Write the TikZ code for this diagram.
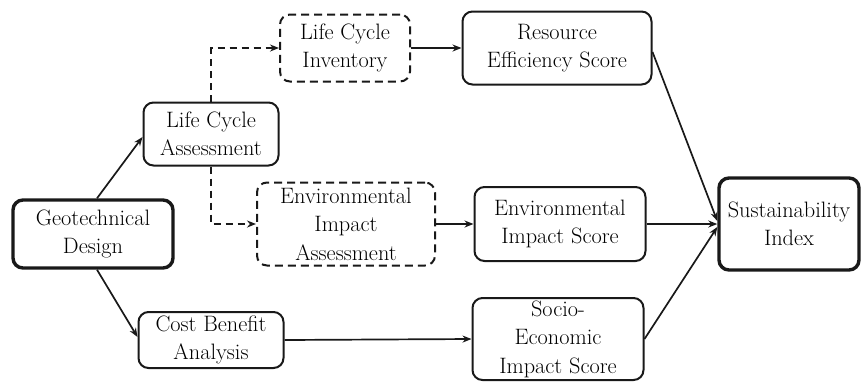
\documentclass[tikz,border=0pt]{standalone}
\usetikzlibrary{arrows.meta,calc}
\begin{document}
\begin{tikzpicture}[x=1pt,y=-1pt,
  box/.style={draw=black!90,line width=2pt,rounded corners=10pt,align=center,
    inner sep=0pt,text=black,font=\rmfamily\fontsize{22.3}{28.5}\selectfont},
  thickbox/.style={box,line width=3.4pt},
  dbox/.style={box,dash pattern=on 8pt off 5pt},
  arr/.style={draw=black!90,line width=1.7pt,-{Stealth[length=9pt,width=7pt]}},
  darr/.style={arr,dash pattern=on 7pt off 5pt}]
\useasboundingbox (0,0) rectangle (861,384);
\node[thickbox,minimum width=160pt,minimum height=68pt] (geo) at (93,234) {Geotechnical\\Design};
\node[box,minimum width=135pt,minimum height=63pt] (lca) at (211,134) {Life Cycle\\Assessment};
\node[box,minimum width=145pt,minimum height=56pt] (cba) at (211,340) {Cost Benefit\\Analysis};
\node[dbox,minimum width=130pt,minimum height=67pt] (lci) at (345,48) {Life Cycle\\Inventory};
\node[dbox,minimum width=178pt,minimum height=83pt] (eia) at (346,224) {Environmental\\Impact\\Assessment};
\node[box,minimum width=189pt,minimum height=73pt] (res) at (557,48) {Resource\\Efficiency Score};
\node[box,minimum width=171pt,minimum height=74pt] (eis) at (560,224) {Environmental\\Impact Score};
\node[box,minimum width=171pt,minimum height=82pt] (seis) at (558,339) {Socio-\\Economic\\Impact Score};
\node[thickbox,minimum width=140pt,minimum height=92pt] (si) at (789,224) {Sustainability\\Index};
\draw[arr] ($(geo.north)+(4,0)$) -- ($(lca.west)+(0,3)$);
\draw[arr] ($(geo.south)+(4,0)$) -- ($(cba.west)+(0,-3)$);
\draw[darr] (lca.north) |- (lci.west);
\draw[darr] (lca.south) |- (eia.west);
\draw[arr] (lci.east) -- (res.west);
\draw[arr] (eia.east) -- (eis.west);
\draw[arr] (cba.east) -- (seis.west);
\draw[arr] ($(res.east)+(0,4)$) -- ($(si.west)+(0,-3)$);
\draw[arr] (eis.east) -- (si.west);
\draw[arr] (seis.east) -- ($(si.west)+(0,3)$);
\end{tikzpicture}
\end{document}
